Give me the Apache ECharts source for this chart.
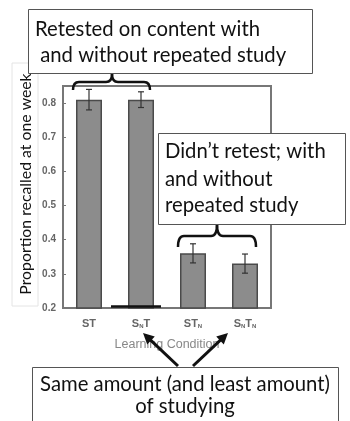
<!DOCTYPE html>
<html><head><meta charset="utf-8">
<script src="https://cdn.jsdelivr.net/npm/echarts@6/dist/echarts.min.js"></script>
<style>html,body{margin:0;padding:0;background:#fff}#c{width:350px;height:421px}</style>
</head><body><div id="c"></div>
<script>
const categories = ['ST', 'SNT', 'STN', 'SNTN'];
const categoryLabels = ['ST', 'S{s|N}T', 'ST{s|N}', 'S{s|N}T{s|N}'];
const meanRecall = [0.81, 0.81, 0.36, 0.33];
const errorHalf = [0.03, 0.023, 0.028, 0.028];
const yTicks = [0.2, 0.3, 0.4, 0.5, 0.6, 0.7, 0.8];
const yAxisTitle = 'Proportion recalled at one week';
const xAxisTitle = 'Learning Condition';
const note1 = ['Retested on content with', ' and without repeated study'];
const note2 = ['Didn\u2019t retest; with', 'and without', 'repeated study'];
const note3 = ['Same amount (and least amount)', 'of studying'];

const chart = echarts.init(document.getElementById('c'), null, {renderer: 'canvas'});
const F = 'Lato, "Open Sans", sans-serif';
const NF = '20.3px ' + F;
const errData = categories.map((c, i) => [i, meanRecall[i] - errorHalf[i], meanRecall[i] + errorHalf[i]]);

function arrow(x1, y1, x2, y2) {
  const dx = x2 - x1, dy = y2 - y1, L = Math.hypot(dx, dy);
  const ux = dx / L, uy = dy / L, px = -uy, py = ux, h = 11, w = 5.5;
  const bx = x2 - ux * h, by = y2 - uy * h;
  return [
    {type: 'line', shape: {x1, y1, x2: bx + ux * 2, y2: by + uy * 2}, style: {stroke: '#111', lineWidth: 3}, z: 50},
    {type: 'polygon', shape: {points: [[x2, y2], [bx + px * w, by + py * w], [bx - px * w, by - py * w]]}, style: {fill: '#111'}, z: 50}
  ];
}
function brace(xa, xm, xb, yTop, yEnd, yPeak) {
  const st = {stroke: '#111', lineWidth: 2.5, fill: null};
  const r = 6;
  const segs = [
    {type: 'bezierCurve', shape: {x1: xa, y1: yEnd, cpx1: xa, cpy1: yTop, x2: xa + r, y2: yTop}},
    {type: 'line', shape: {x1: xa + r, y1: yTop, x2: xm - r, y2: yTop}},
    {type: 'bezierCurve', shape: {x1: xm - r, y1: yTop, cpx1: xm, cpy1: yTop, x2: xm, y2: yPeak}},
    {type: 'bezierCurve', shape: {x1: xm, y1: yPeak, cpx1: xm, cpy1: yTop, x2: xm + r, y2: yTop}},
    {type: 'line', shape: {x1: xm + r, y1: yTop, x2: xb - r, y2: yTop}},
    {type: 'bezierCurve', shape: {x1: xb - r, y1: yTop, cpx1: xb, cpy1: yTop, x2: xb, y2: yEnd}}
  ];
  return segs.map(s => Object.assign(s, {style: st, z: 42}));
}

const graphics = [
  {type: 'rect', shape: {x: 12, y: 63, width: 26, height: 243}, style: {fill: '#fff', stroke: '#e4e4e4', lineWidth: 1}, z: 1},
  {type: 'text', x: 26, y: 184, rotation: Math.PI / 2, style: {text: yAxisTitle, font: '15.8px ' + F, fill: '#111', align: 'center', verticalAlign: 'middle'}, z: 2},
  {type: 'rect', shape: {x: 28.5, y: 9.5, width: 284, height: 64}, style: {fill: '#fff', stroke: '#555', lineWidth: 1}, z: 40},
  {type: 'text', x: 35, y: 29, style: {text: note1[0], font: NF, fill: '#111', verticalAlign: 'middle'}, z: 41},
  {type: 'text', x: 35, y: 55, style: {text: note1[1], font: NF, fill: '#111', verticalAlign: 'middle'}, z: 41},
  {type: 'rect', shape: {x: 158.5, y: 133.5, width: 187, height: 91}, style: {fill: '#fff', stroke: '#555', lineWidth: 1}, z: 40},
  {type: 'text', x: 165, y: 151, style: {text: note2[0], font: NF, fill: '#111', verticalAlign: 'middle'}, z: 41},
  {type: 'text', x: 165, y: 179, style: {text: note2[1], font: NF, fill: '#111', verticalAlign: 'middle'}, z: 41},
  {type: 'text', x: 165, y: 205, style: {text: note2[2], font: NF, fill: '#111', verticalAlign: 'middle'}, z: 41},
  {type: 'rect', shape: {x: 32.5, y: 367.5, width: 306, height: 80}, style: {fill: '#fff', stroke: '#555', lineWidth: 1}, z: 40},
  {type: 'text', x: 185, y: 384, style: {text: note3[0], font: NF, fill: '#111', align: 'center', verticalAlign: 'middle'}, z: 41},
  {type: 'text', x: 185, y: 406, style: {text: note3[1], font: NF, fill: '#111', align: 'center', verticalAlign: 'middle'}, z: 41},
  {type: 'line', shape: {x1: 111, y1: 306.5, x2: 161, y2: 306.5}, style: {stroke: '#111', lineWidth: 2.5}, z: 30}
].concat(brace(73, 112, 150, 82, 90, 74), brace(178, 217, 256, 236, 247, 225), arrow(178, 366, 143, 333), arrow(193, 366, 228, 333));

chart.setOption({
  animation: false,
  backgroundColor: '#fff',
  grid: {left: 63, right: 79, top: 86, bottom: 113, show: true, borderColor: '#777', borderWidth: 2, backgroundColor: '#fff'},
  xAxis: {
    type: 'category', data: categories,
    name: xAxisTitle, nameLocation: 'middle', nameGap: 30,
    nameTextStyle: {color: '#888', fontSize: 12.5, fontFamily: 'Liberation Sans, Arial'},
    axisLine: {lineStyle: {color: '#777', width: 2}},
    axisTick: {show: false},
    axisLabel: {
      interval: 0, margin: 10, color: '#666', fontSize: 11, fontWeight: 'bold', fontFamily: 'Liberation Sans, Arial',
      formatter: (v, i) => categoryLabels[i],
      rich: {s: {fontSize: 6, fontWeight: 'bold', color: '#666', fontFamily: 'Liberation Sans, Arial', verticalAlign: 'bottom', padding: [5, 0, 0, 0]}}
    }
  },
  yAxis: {
    type: 'value', min: 0.2, max: 0.85, interval: 0.1,
    axisLine: {show: true, lineStyle: {color: '#777', width: 2}},
    axisTick: {show: true, inside: true, length: 3, lineStyle: {color: '#777'}},
    splitLine: {show: false},
    axisLabel: {margin: 7, color: '#666', fontSize: 10, fontWeight: 'bold', fontFamily: 'Liberation Sans, Arial', showMaxLabel: false,
      formatter: v => yTicks.some(t => Math.abs(t - v) < 1e-6) ? v.toFixed(1) : ''}
  },
  series: [
    {type: 'bar', data: meanRecall, barWidth: '50%', itemStyle: {color: '#8c8c8c', borderColor: '#4a4a4a', borderWidth: 1.5}, z: 2},
    {type: 'custom', data: errData, z: 3,
      renderItem: (params, api) => {
        const lo = api.coord([api.value(0), api.value(1)]);
        const hi = api.coord([api.value(0), api.value(2)]);
        const w = 3;
        return {type: 'group', children: [
          {type: 'line', shape: {x1: hi[0], y1: hi[1], x2: lo[0], y2: lo[1]}, style: {stroke: '#333', lineWidth: 1.2}},
          {type: 'line', shape: {x1: hi[0] - w, y1: hi[1], x2: hi[0] + w, y2: hi[1]}, style: {stroke: '#333', lineWidth: 1.2}},
          {type: 'line', shape: {x1: lo[0] - w, y1: lo[1], x2: lo[0] + w, y2: lo[1]}, style: {stroke: '#333', lineWidth: 1.2}}
        ]};
      }}
  ],
  graphic: graphics
});
</script></body></html>
